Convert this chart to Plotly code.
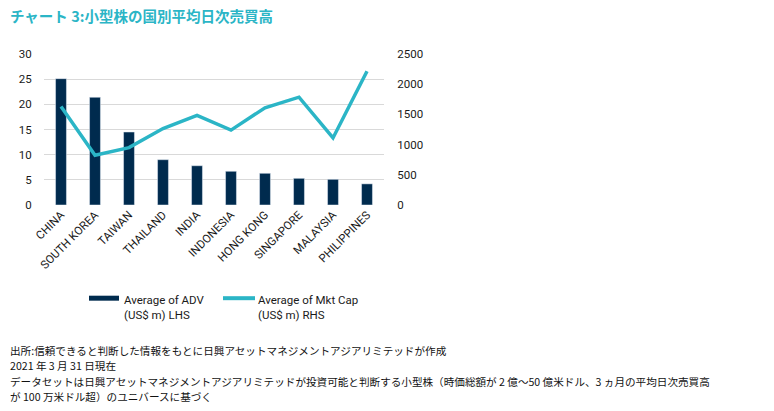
import plotly.graph_objects as go

countries = ["CHINA", "SOUTH KOREA", "TAIWAN", "THAILAND", "INDIA", "INDONESIA",
             "HONG KONG", "SINGAPORE", "MALAYSIA", "PHILIPPINES"]
adv = [25.1, 21.4, 14.5, 9.0, 7.8, 6.7, 6.3, 5.3, 5.1, 4.2]
mktcap = [1630, 825, 950, 1265, 1485, 1240, 1610, 1785, 1110, 2215]

left_ticks = [0, 5, 10, 15, 20, 25, 30]
right_ticks = [0, 500, 1000, 1500, 2000, 2500]

title = "チャート 3:小型株の国別平均日次売買高"
notes = [
    "出所:信頼できると判断した情報をもとに日興アセットマネジメントアジアリミテッドが作成",
    "2021 年 3 月 31 日現在",
    "データセットは日興アセットマネジメントアジアリミテッドが投資可能と判断する小型株（時価総額が 2 億～50 億米ドル、3 ヵ月の平均日次売買高",
    "が 100 万米ドル超）のユニバースに基づく",
]
leg1 = "Average of ADV<br>(US$ m) LHS"
leg2 = "Average of Mkt Cap<br>(US$ m) RHS"

NAVY = "#002b4e"
TEAL = "#2bb5c6"
FONT = "Liberation Sans Narrow, Arial Narrow, Roboto, sans-serif"
CJK = "Noto Sans CJK JP"

W, H = 774, 411
L, R, T, B = 44, 384, 53.5, 205


def px(x):
    return (x - L) / (R - L)


def py(y):
    return (B - y) / (B - T)


fig = go.Figure()
fig.add_trace(go.Bar(x=countries, y=adv, marker_color=NAVY, width=0.32,
                     name="ADV", showlegend=False))
fig.add_trace(go.Scatter(x=countries, y=mktcap, mode="lines", yaxis="y2",
                         line=dict(color=TEAL, width=3.5), showlegend=False))

fig.update_layout(
    width=W, height=H,
    margin=dict(l=L, r=W - R, t=T, b=H - B, pad=0),
    plot_bgcolor="white", paper_bgcolor="white",
    font=dict(family=FONT, size=11, color="#1a1a1a"),
    xaxis=dict(tickangle=-45, tickfont=dict(size=11.5, family=FONT),
               showgrid=False, showline=False, ticks=""),
    yaxis=dict(range=[0, 30], tickvals=left_ticks, showgrid=True,
               gridcolor="#d9d9d9", gridwidth=1, zeroline=False,
               ticks="outside", ticklen=9, tickcolor="rgba(0,0,0,0)",
               tickfont=dict(size=11.5, family=FONT)),
    yaxis2=dict(range=[0, 2500], tickvals=right_ticks, overlaying="y",
                side="right", showgrid=False, zeroline=False,
                ticks="outside", ticklen=10, tickcolor="rgba(0,0,0,0)",
                tickfont=dict(size=11.5, family=FONT)),
    bargap=0.68,
)

shapes = [
    dict(type="rect", xref="paper", yref="paper", x0=px(89), x1=px(119),
         y0=py(301), y1=py(296), fillcolor=NAVY, line=dict(width=0)),
    dict(type="line", xref="paper", yref="paper", x0=px(223), x1=px(255),
         y0=py(298.5), y1=py(298.5), line=dict(color=TEAL, width=4)),
]
ann = [
    dict(text=leg1, x=px(122), y=py(291), xanchor="left", yanchor="top",
         align="left", font=dict(size=11.5, family=FONT, color="#1a1a1a")),
    dict(text=leg2, x=px(256), y=py(291), xanchor="left", yanchor="top",
         align="left", font=dict(size=11.5, family=FONT, color="#1a1a1a")),
    dict(text="<b>" + title + "</b>", x=px(8), y=py(15), xanchor="left",
         yanchor="middle", font=dict(size=14.5, family=CJK, color=TEAL)),
]
for i, t in enumerate(notes):
    ann.append(dict(text=t, x=px(8), y=py(351 + i * 15.4), xanchor="left",
                    yanchor="middle",
                    font=dict(size=10.6, family=CJK, color="#111111")))
for a in ann:
    a.update(xref="paper", yref="paper", showarrow=False)

fig.update_layout(shapes=shapes, annotations=ann)
fig.write_html("out.html", config={"displayModeBar": False},
               post_script="document.body.style.margin='0';document.body.style.overflow='hidden';")
